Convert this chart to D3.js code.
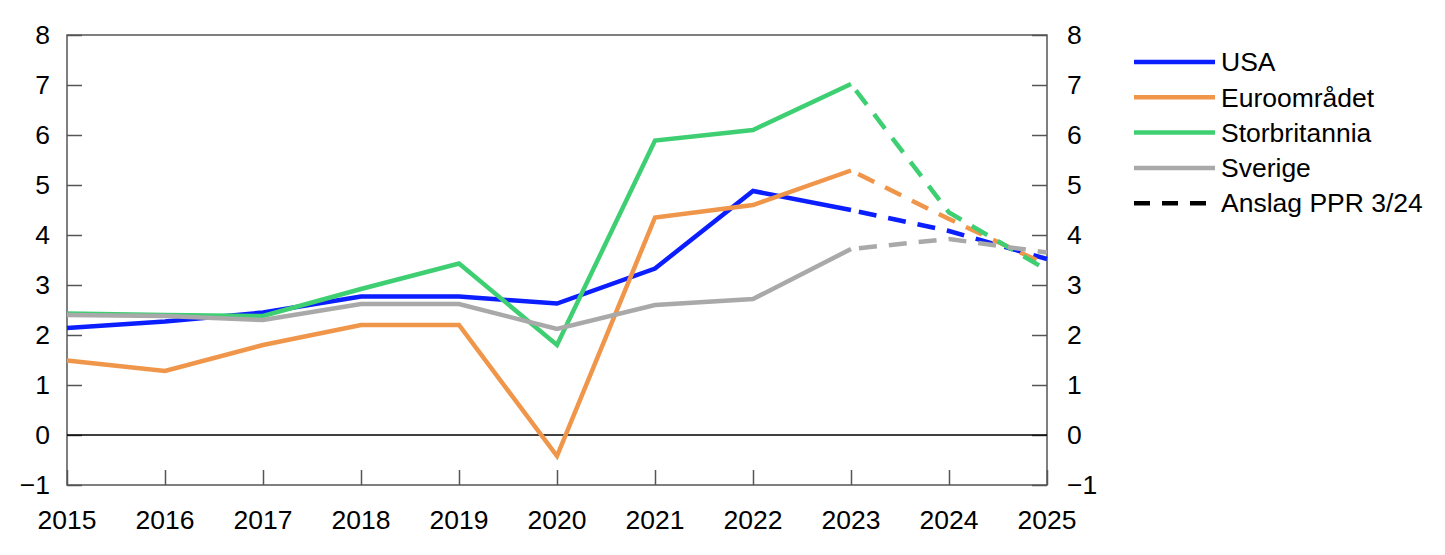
<!DOCTYPE html>
<html>
<head>
<meta charset="utf-8">
<script src="https://cdn.jsdelivr.net/npm/d3@7"></script>
<style>
  body { margin: 0; background: #fff; }
  svg { display: block; }
  svg text { font-family: "Liberation Sans", Arial, sans-serif; }
</style>
</head>
<body>
<div id="chart"></div>
<script>
const years = [2015, 2016, 2017, 2018, 2019, 2020, 2021, 2022, 2023, 2024, 2025];
const lastActualYear = 2023;

const usa = [2.14, 2.27, 2.45, 2.77, 2.77, 2.63, 3.33, 4.88, 4.5, 4.08, 3.52];
const euro = [1.49, 1.28, 1.8, 2.2, 2.2, -0.42, 4.35, 4.6, 5.29, 4.32, 3.4];
const uk = [2.43, 2.4, 2.38, 2.92, 3.43, 1.8, 5.89, 6.1, 7.02, 4.45, 3.3];
const sweden = [2.4, 2.38, 2.3, 2.62, 2.62, 2.12, 2.6, 2.72, 3.72, 3.92, 3.65];

const seriesNames = ["USA", "Euroområdet", "Storbritannia", "Sverige"];
const seriesColors = ["#0a1eff", "#f0964b", "#3fcf73", "#a9a9a9"];
const yTicks = [-1, 0, 1, 2, 3, 4, 5, 6, 7, 8];
const forecastLabel = "Anslag PPR 3/24";

const width = 1445, height = 555;
const margin = { top: 35, right: 398, bottom: 70, left: 67 };
const innerWidth = width - margin.left - margin.right;
const innerHeight = height - margin.top - margin.bottom;
const fontSize = 26.5;

const svg = d3.select("#chart").append("svg")
  .attr("width", width)
  .attr("height", height);

const chart = svg.append("g")
  .attr("transform", `translate(${margin.left},${margin.top})`);

const x = d3.scaleLinear().domain([2015, 2025]).range([0, innerWidth]);
const y = d3.scaleLinear().domain([-1, 8]).range([innerHeight, 0]);

const yFormat = (d) => d < 0 ? "\u2212" + Math.abs(d) : String(d);

// frame
chart.append("rect")
  .attr("width", innerWidth)
  .attr("height", innerHeight)
  .attr("fill", "none")
  .attr("stroke", "#555")
  .attr("stroke-width", 1.5);

// tick marks, pointing into the plot
chart.append("g")
  .call(d3.axisLeft(y).tickValues(yTicks).tickSize(-15).tickFormat(""))
  .call((g) => g.select(".domain").remove())
  .call((g) => g.selectAll("line").attr("stroke", "#555").attr("stroke-width", 1.5));

chart.append("g")
  .attr("transform", `translate(${innerWidth},0)`)
  .call(d3.axisRight(y).tickValues(yTicks).tickSize(-15).tickFormat(""))
  .call((g) => g.select(".domain").remove())
  .call((g) => g.selectAll("line").attr("stroke", "#555").attr("stroke-width", 1.5));

chart.append("g")
  .attr("transform", `translate(0,${innerHeight})`)
  .call(d3.axisBottom(x).tickValues(years).tickSize(-15).tickFormat(""))
  .call((g) => g.select(".domain").remove())
  .call((g) => g.selectAll("line").attr("stroke", "#555").attr("stroke-width", 1.5));

// tick labels
chart.append("g").selectAll("text")
  .data(yTicks)
  .join("text")
  .attr("x", -17)
  .attr("y", (d) => y(d))
  .attr("dy", "0.35em")
  .attr("text-anchor", "end")
  .attr("font-size", fontSize)
  .text(yFormat);

chart.append("g").selectAll("text")
  .data(yTicks)
  .join("text")
  .attr("x", innerWidth + 20)
  .attr("y", (d) => y(d))
  .attr("dy", "0.35em")
  .attr("text-anchor", "start")
  .attr("font-size", fontSize)
  .text(yFormat);

chart.append("g").selectAll("text")
  .data(years)
  .join("text")
  .attr("x", (d) => x(d))
  .attr("y", innerHeight + 44)
  .attr("text-anchor", "middle")
  .attr("font-size", fontSize)
  .text((d) => d);

// zero line
chart.append("line")
  .attr("x1", 0).attr("x2", innerWidth)
  .attr("y1", y(0)).attr("y2", y(0))
  .attr("stroke", "#000")
  .attr("stroke-width", 1.5);

const line = d3.line()
  .x((d) => x(d.year))
  .y((d) => y(d.value));

const allSeries = [usa, euro, uk, sweden];

// forecasts first so solid lines sit on top
allSeries.forEach((values, i) => {
  const points = years.map((year, j) => ({ year, value: values[j] }));
  chart.append("path")
    .datum(points.filter((d) => d.year >= lastActualYear))
    .attr("d", line)
    .attr("fill", "none")
    .attr("stroke", seriesColors[i])
    .attr("stroke-width", 4.5)
    .attr("stroke-dasharray", "18 12")
    .attr("stroke-dashoffset", -8);
});

allSeries.forEach((values, i) => {
  const points = years.map((year, j) => ({ year, value: values[j] }));
  chart.append("path")
    .datum(points.filter((d) => d.year <= lastActualYear))
    .attr("d", line)
    .attr("fill", "none")
    .attr("stroke", seriesColors[i])
    .attr("stroke-width", 4.5);
});

// legend
const legend = svg.append("g").attr("transform", "translate(1134,62)");
const legendItems = seriesNames.map((name, i) => ({ name, color: seriesColors[i], dash: null }))
  .concat([{ name: forecastLabel, color: "#000", dash: "16 12" }]);

legendItems.forEach((item, i) => {
  const row = legend.append("g").attr("transform", `translate(0,${i * 35.3})`);
  row.append("line")
    .attr("x1", 0).attr("x2", 81)
    .attr("y1", 0).attr("y2", 0)
    .attr("stroke", item.color)
    .attr("stroke-width", 4.5)
    .attr("stroke-dasharray", item.dash);
  row.append("text")
    .attr("x", 87)
    .attr("y", 0)
    .attr("dy", "0.35em")
    .attr("font-size", fontSize)
    .text(item.name);
});
</script>
</body>
</html>
